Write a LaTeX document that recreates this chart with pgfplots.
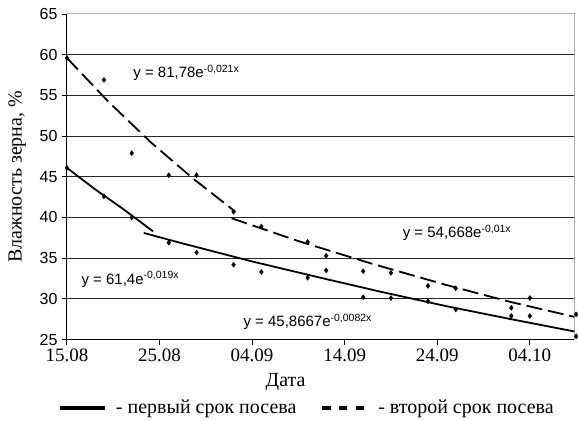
\documentclass[border=0pt]{standalone}
\usepackage{fontspec}
\setmainfont{Liberation Serif}
\newfontfamily\arial{Liberation Sans}
\usepackage{pgfplots}
\usepackage{pgfplotstable}
\pgfplotsset{compat=1.18}

% measured points (days after 15.08, moisture %)
\pgfplotstableread{
d v
0 46.1
4 42.6
7 40.0
11 36.9
14 35.7
18 34.2
21 33.3
26 32.6
28 33.5
32 30.2
35 30.1
39 29.7
42 28.7
48 27.9
50 27.9
55 25.4
}\first
\pgfplotstableread{
d v
0 59.6
4 56.9
7 47.9
11 45.2
14 45.2
18 40.7
21 38.9
26 37.0
28 35.3
32 33.4
35 33.2
39 31.6
42 31.3
48 28.9
50 30.1
55 28.1
}\second

\begin{document}
\begin{tikzpicture}
\begin{axis}[
  scale only axis, width=508pt, height=326pt,
  xmin=0, xmax=54.8, ymin=25, ymax=65,
  axis x line*=bottom, axis y line*=left,
  axis line style={black, line width=1pt},
  tick align=outside, major tick length=5pt,
  tick style={black, line width=0.9pt},
  xtick={0,10,20,30,40,50},
  xticklabels={15.08,25.08,04.09,14.09,24.09,04.10},
  ytick={30,35,40,45,50,55,60},
  extra y ticks={25,65},
  extra y tick style={grid=none},
  ymajorgrids, grid style={black!85, line width=1.1pt},
  /pgf/number format/assume math mode=true,
  yticklabel style={font=\arial\fontsize{16}{16}\selectfont, xshift=-1pt},
  xticklabel style={font=\fontsize{19}{19}\selectfont, yshift=-1pt},
  xlabel={Дата},
  xlabel style={font=\fontsize{20}{20}\selectfont, at={(axis description cs:0.431,-0.132)}, anchor=center},
  ylabel={Влажность зерна, \%},
  ylabel style={font=\fontsize{20}{20}\selectfont, at={(axis description cs:-0.098,0.5)}, anchor=center},
  clip=false,
  legend columns=2,
  legend style={draw=none, at={(axis description cs:0.473,-0.209)}, anchor=center,
    font=\fontsize{20}{20}\selectfont, inner sep=0pt,
    /tikz/every even column/.append style={column sep=22pt}},
  legend image code/.code={\draw[#1] (0pt,0pt) -- (45pt,0pt); \path (52pt,0pt);},
]
\coordinate (sw) at (rel axis cs:0,0);
\draw[gray!65, line width=1pt] (rel axis cs:0,1) -- (rel axis cs:1,1) -- (rel axis cs:1,0);

% trend curves
\addplot[black, line width=1.8pt, forget plot] coordinates {(0,46.1) (3,43.5) (6,41.1) (9.3,38.3)};
\addplot[black, line width=1.8pt, forget plot] coordinates {(8.3,38.1) (12.2,36.9) (20,34.6) (27,32.7) (33.8,30.9) (41,29.1) (48,27.5) (54.8,26.0)};
\addplot[black, line width=1.8pt, dash pattern=on 16pt off 6pt, forget plot] coordinates {(0,59.6) (4.5,54.2) (9,49.3) (13.5,44.9) (18.2,40.7)};
\addplot[black, line width=1.8pt, dash pattern=on 16pt off 6pt, forget plot] coordinates {(17.8,39.9) (25,37.1) (33,34.3) (41,31.7) (48,29.6) (54.8,27.8)};

\addplot[only marks, mark=diamond*, mark size=2.5pt, black, forget plot] table[x=d, y=v] {\first};
\addplot[only marks, mark=diamond*, mark size=2.5pt, black, forget plot] table[x=d, y=v] {\second};

\addlegendimage{black, line width=4pt}
\addlegendentry{- первый срок посева}
\addlegendimage{black, line width=4pt, dash pattern=on 8.3pt off 8.3pt}
\addlegendentry{- второй срок посева}

\node[anchor=west, font=\arial\fontsize{15}{15}\selectfont] at (axis cs:6.8,57.8) {y = 81,78e\textsuperscript{-0,021x}};
\node[anchor=west, font=\arial\fontsize{15}{15}\selectfont] at (axis cs:1.2,32.4) {y = 61,4e\textsuperscript{-0,019x}};
\node[anchor=west, font=\arial\fontsize{15}{15}\selectfont] at (axis cs:35.9,38.1) {y = 54,668e\textsuperscript{-0,01x}};
\node[anchor=west, font=\arial\fontsize{15}{15}\selectfont] at (axis cs:18.7,27.2) {y = 45,8667e\textsuperscript{-0,0082x}};
\end{axis}
\path ([shift={(-67pt,-81pt)}]sw) rectangle ++(578pt,421pt);
\end{tikzpicture}
\end{document}
